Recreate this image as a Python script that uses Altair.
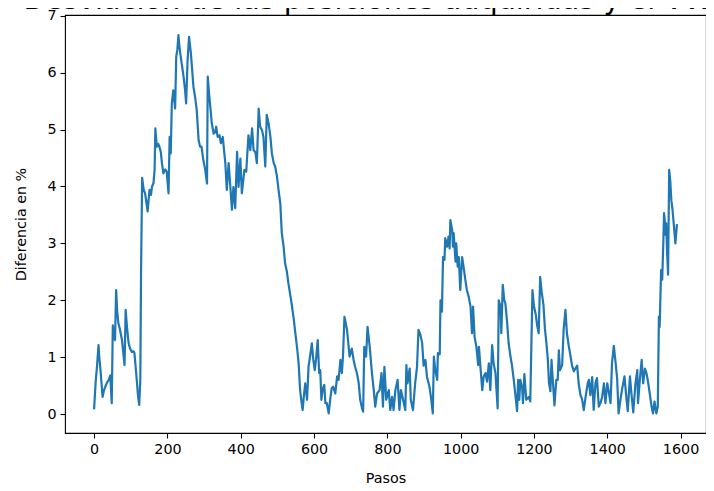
import altair as alt
import pandas as pd

TITLE = "Desviación de las posiciones adquiridas y el VWAP"
X_TITLE = "Pasos"
Y_TITLE = "Diferencia en %"

x_ticks = [0, 200, 400, 600, 800, 1000, 1200, 1400, 1600]
y_ticks = [0, 1, 2, 3, 4, 5, 6, 7]

steps = [
    0, 4, 8, 12, 14, 17, 20, 23, 27, 30, 35, 40, 44, 48, 51, 54, 57, 60, 63, 66,
    70, 76, 80, 83, 86, 90, 94, 98, 103, 108, 110, 115, 120, 123, 126, 128, 131, 135, 139, 143,
    146, 151, 155, 158, 162, 165, 167, 171, 175, 178, 182, 185, 189, 194, 198, 203, 206, 209, 212, 216,
    221, 224, 227, 230, 232, 235, 239, 244, 248, 251, 255, 259, 264, 268, 271, 276, 280, 285, 289, 293,
    298, 303, 308, 310, 314, 317, 321, 326, 330, 333, 337, 342, 346, 351, 355, 358, 362, 367, 371, 376,
    380, 385, 390, 394, 399, 403, 410, 415, 421, 426, 431, 435, 440, 444, 449, 453, 458, 462, 467, 471,
    476, 481, 485, 490, 494, 499, 503, 508, 512, 517, 521, 526, 530, 535, 540, 545, 549, 554, 558, 562,
    566, 569, 572, 576, 581, 585, 590, 594, 598, 602, 606, 610, 614, 617, 620, 624, 628, 631, 635, 640,
    644, 648, 652, 658, 663, 667, 672, 676, 679, 683, 690, 697, 703, 708, 712, 717, 722, 726, 731, 734,
    737, 742, 746, 752, 758, 763, 767, 772, 779, 784, 788, 792, 797, 804, 808, 813, 817, 822, 828, 833,
    837, 843, 849, 852, 855, 861, 864, 870, 876, 881, 885, 890, 895, 899, 904, 908, 915, 920, 924, 927,
    931, 936, 938, 943, 945, 949, 952, 956, 958, 963, 967, 970, 972, 977, 979, 981, 986, 988, 992, 995,
    999, 1004, 1008, 1013, 1017, 1022, 1027, 1031, 1034, 1038, 1043, 1048, 1050, 1054, 1059, 1063, 1068, 1072, 1077, 1081,
    1086, 1090, 1095, 1101, 1104, 1109, 1111, 1115, 1119, 1122, 1127, 1131, 1136, 1140, 1145, 1150, 1154, 1157, 1160, 1163,
    1168, 1170, 1174, 1179, 1183, 1186, 1190, 1196, 1200, 1205, 1209, 1213, 1217, 1221, 1226, 1230, 1234, 1238, 1241, 1245,
    1248, 1252, 1256, 1261, 1265, 1268, 1271, 1277, 1281, 1286, 1290, 1295, 1299, 1304, 1309, 1313, 1318, 1322, 1327, 1331,
    1336, 1341, 1347, 1350, 1354, 1359, 1363, 1368, 1372, 1377, 1382, 1386, 1391, 1395, 1400, 1404, 1409, 1413, 1418, 1422,
    1427, 1431, 1436, 1441, 1447, 1452, 1456, 1462, 1466, 1471, 1477, 1482, 1484, 1489, 1494, 1498, 1503, 1507, 1512, 1516,
    1521, 1525, 1529, 1534, 1538, 1541, 1543, 1547, 1550, 1553, 1555, 1557, 1559, 1561, 1563, 1566, 1569, 1572, 1575, 1578,
    1582, 1586, 1590,
]

values = [
    0.10, 0.55, 0.85, 1.21, 1.00, 0.80, 0.55, 0.30, 0.42, 0.47, 0.55, 0.60, 0.68, 0.19, 1.56, 1.35, 1.30, 2.18, 1.80, 1.60,
    1.50, 1.30, 1.05, 0.86, 1.83, 1.50, 1.25, 1.15, 1.09, 1.10, 1.07, 0.70, 0.30, 0.16, 0.60, 2.50, 4.15, 3.95, 3.88, 3.70,
    3.56, 3.94, 3.85, 4.00, 4.06, 4.30, 5.02, 4.70, 4.75, 4.70, 4.60, 4.41, 4.23, 4.30, 4.26, 3.88, 4.87, 4.58, 5.46, 5.69,
    5.37, 6.28, 6.40, 6.66, 6.50, 6.34, 6.16, 5.93, 5.70, 5.46, 6.22, 6.63, 6.34, 6.00, 5.75, 5.55, 5.34, 4.82, 4.70, 4.70,
    4.46, 4.30, 4.05, 5.93, 5.60, 5.40, 5.11, 4.93, 4.95, 5.05, 4.87, 4.90, 4.76, 4.87, 4.60, 4.41, 3.94, 4.41, 4.05, 3.59,
    3.99, 3.62, 4.61, 3.99, 4.49, 3.88, 4.29, 4.26, 4.90, 4.64, 5.02, 4.64, 4.60, 4.41, 5.37, 5.05, 4.99, 4.87, 4.35, 5.26,
    5.11, 4.87, 4.58, 4.41, 4.35, 4.17, 3.95, 3.70, 3.18, 2.94, 2.65, 2.50, 2.30, 2.10, 1.89, 1.65, 1.42, 1.15, 0.89, 0.42,
    0.20, 0.07, 0.30, 0.54, 0.25, 0.83, 1.05, 1.24, 0.95, 0.77, 1.00, 1.30, 0.72, 0.77, 0.25, 0.45, 0.51, 0.19, 0.19, 0.01,
    0.25, 0.45, 0.48, 0.36, 0.66, 0.60, 0.95, 0.72, 1.01, 1.71, 1.48, 1.01, 1.15, 0.95, 0.83, 0.72, 0.54, 0.25, 0.10, 0.04,
    1.18, 1.01, 1.53, 1.18, 0.72, 0.42, 0.13, 0.36, 0.42, 0.72, 0.13, 0.83, 0.25, 0.42, 0.07, 0.30, 0.07, 0.42, 0.60, 0.07,
    0.42, 0.25, 0.07, 0.86, 0.54, 0.80, 0.25, 0.07, 0.54, 0.83, 1.48, 1.40, 1.25, 0.85, 0.95, 0.66, 0.48, 0.25, 0.01, 1.01,
    0.77, 0.60, 1.07, 1.05, 2.00, 1.80, 2.76, 2.71, 3.09, 2.94, 3.12, 2.91, 3.41, 3.23, 2.94, 3.18, 2.68, 3.00, 2.59, 2.76,
    2.18, 2.76, 2.59, 2.35, 2.18, 2.06, 1.89, 1.42, 1.89, 1.36, 1.18, 0.86, 1.18, 0.83, 0.42, 0.66, 0.72, 0.57, 0.89, 0.42,
    1.21, 0.89, 0.72, 0.10, 2.00, 1.89, 1.42, 2.27, 2.00, 1.95, 1.60, 1.24, 1.01, 0.86, 0.60, 0.30, 0.05, 0.60, 0.25, 0.60,
    0.45, 0.19, 0.70, 0.25, 0.28, 0.30, 0.22, 2.18, 1.90, 1.75, 1.55, 1.42, 2.41, 2.15, 1.92, 1.50, 1.25, 0.95, 0.55, 0.40,
    0.95, 0.55, 0.15, 0.60, 0.60, 1.12, 0.77, 0.86, 1.48, 1.83, 1.42, 1.20, 1.05, 0.85, 0.75, 0.80, 0.85, 0.54, 0.33, 0.27,
    0.07, 0.30, 0.55, 0.60, 0.33, 0.65, 0.07, 0.55, 0.63, 0.13, 0.20, 0.30, 0.54, 0.19, 0.54, 0.40, 0.19, 0.89, 1.20, 0.95,
    0.63, 0.01, 0.25, 0.45, 0.66, 0.30, 0.05, 0.66, 0.36, 0.03, 0.54, 0.77, 0.19, 0.60, 0.95, 0.54, 0.80, 0.72, 0.54, 0.36,
    0.13, 0.01, 0.22, 0.01, 0.13, 1.71, 1.53, 2.53, 2.36, 3.00, 3.53, 3.40, 3.15, 3.35, 2.90, 2.45, 4.29, 4.10, 3.75, 3.60,
    3.30, 3.00, 3.32,
]

df = pd.DataFrame({"paso": steps, "dif": values})

FONT = "DejaVu Sans"
FS = 14.3

line = alt.Chart(df).mark_line(
    color="#1f77b4", strokeWidth=2.2, strokeJoin="round", strokeCap="square"
).encode(
    x=alt.X(
        "paso:Q",
        scale=alt.Scale(domain=[-79.5, 1669.5], nice=False, zero=False),
        axis=alt.Axis(values=x_ticks, format="d", title=X_TITLE, titlePadding=15),
    ),
    y=alt.Y(
        "dif:Q",
        scale=alt.Scale(domain=[-0.334, 7.014], nice=False, zero=False),
        axis=alt.Axis(values=y_ticks, format="d", title=Y_TITLE, titlePadding=18),
    ),
)

title = alt.Chart(pd.DataFrame({"t": [TITLE]})).mark_text(
    font=FONT, fontSize=28.7, align="center", baseline="alphabetic", color="black"
).encode(
    x=alt.value(320.5),
    y=alt.value(-6),
    text="t:N",
)

chart = (
    alt.layer(line, title)
    .properties(
        width=641,
        height=418,
        autosize=alt.AutoSizeParams(type="none"),
        padding={"left": 57, "top": 7, "right": 0, "bottom": 58},
        background="white",
    )
    .configure_view(stroke="black", strokeWidth=1.1)
    .configure_axis(
        domain=False,
        grid=False,
        ticks=True,
        tickColor="black",
        tickSize=5,
        tickWidth=1.1,
        labelFont=FONT,
        labelFontSize=FS,
        labelColor="black",
        labelPadding=4,
        titleFont=FONT,
        titleFontSize=FS,
        titleFontWeight="normal",
        titleColor="black",
    )
)

chart.save("out.html", embed_options={"renderer": "svg", "actions": False})
